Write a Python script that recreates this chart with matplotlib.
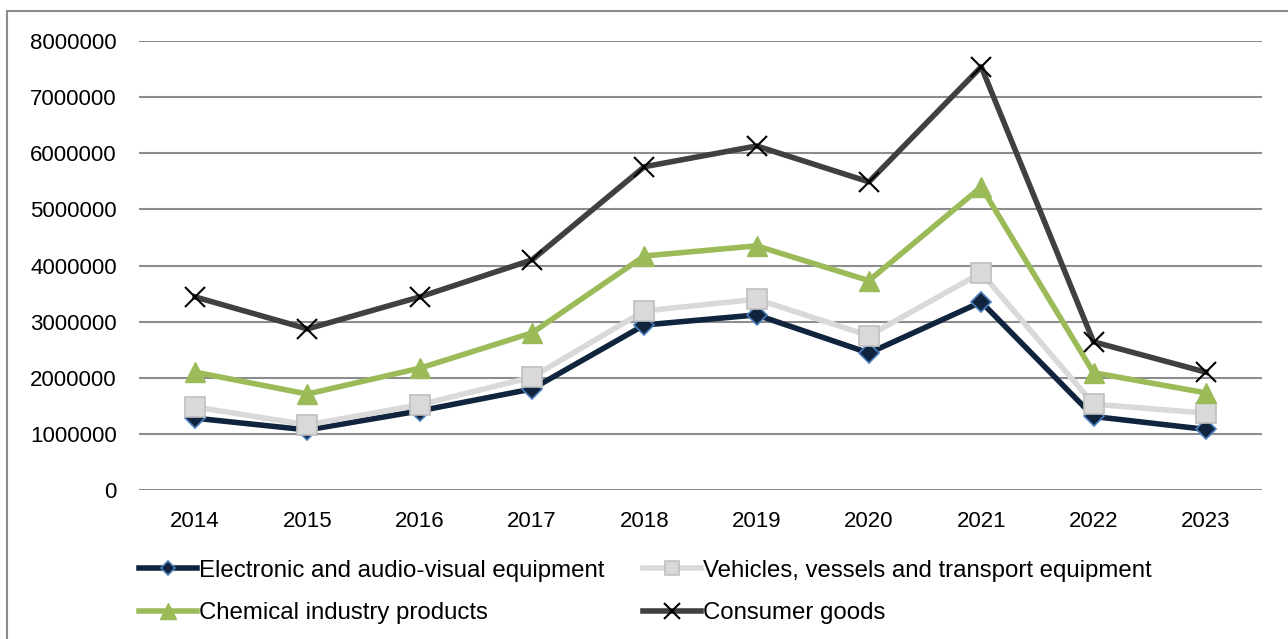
import matplotlib.pyplot as plt
from matplotlib.patches import Rectangle

plt.rcParams['font.family'] = ['Liberation Sans', 'DejaVu Sans']

years = ["2014", "2015", "2016", "2017", "2018", "2019", "2020", "2021", "2022", "2023"]
electronic = [1280000, 1070000, 1410000, 1800000, 2940000, 3120000, 2440000, 3350000, 1310000, 1080000]
vehicles = [1480000, 1160000, 1520000, 2010000, 3190000, 3400000, 2750000, 3870000, 1530000, 1370000]
chemical = [2100000, 1710000, 2170000, 2800000, 4170000, 4350000, 3730000, 5400000, 2090000, 1730000]
consumer = [3440000, 2870000, 3440000, 4100000, 5760000, 6130000, 5490000, 7540000, 2640000, 2100000]

fig = plt.figure(figsize=(12.88, 6.39), dpi=100)
ax = fig.add_axes([139 / 1288, 1 - 490 / 639, 1123 / 1288, 449 / 639])

fig.patches.append(Rectangle((7 / 1288, -0.1), 1.2, 1 - 11 / 639 + 0.1, transform=fig.transFigure,
                             fill=False, edgecolor="#8c8c8c", linewidth=1.5))

x = range(len(years))
l1, = ax.plot(x, electronic, color="#10243e", lw=4, marker="D", ms=10, mfc="#10243e",
              mec="#4a7ebb", mew=1.2, label="Electronic and audio-visual equipment", zorder=3)
l2, = ax.plot(x, vehicles, color="#d9d9d9", lw=4, marker="s", ms=14, mfc="#d9d9d9",
              mec="#bfbfbf", mew=1.2, label="Vehicles, vessels and transport equipment", zorder=3)
l3, = ax.plot(x, chemical, color="#9bbb59", lw=4, marker="^", ms=15, mfc="#9bbb59",
              mec="#9bbb59", label="Chemical industry products", zorder=3)
l4, = ax.plot(x, consumer, color="#404040", lw=4, marker="x", ms=15, mec="black",
              mew=1.5, label="Consumer goods", zorder=3)

ax.set_xlim(-0.5, len(years) - 0.5)
ax.set_ylim(0, 8000000)
ax.set_yticks(range(0, 8000001, 1000000))
ax.set_yticklabels([str(v) for v in range(0, 8000001, 1000000)])
ax.set_xticks(list(x))
ax.set_xticklabels(years)
ax.tick_params(length=0, labelsize=16, pad=15)
ax.tick_params(axis="y", pad=16)
ax.grid(axis="y", color="#8c8c8c", lw=1.5)
ax.set_axisbelow(True)
for s in ax.spines.values():
    s.set_visible(False)

ax.legend(handles=[l1, l3, l2, l4], loc="upper left", bbox_to_anchor=(0.0, -0.155), ncol=2,
          frameon=False, fontsize=17.3, handlelength=2.4, handletextpad=0.1, columnspacing=1.6,
          labelspacing=0.85, borderaxespad=0, borderpad=0, markerscale=0.75)

fig.savefig("out.png", dpi=100)
